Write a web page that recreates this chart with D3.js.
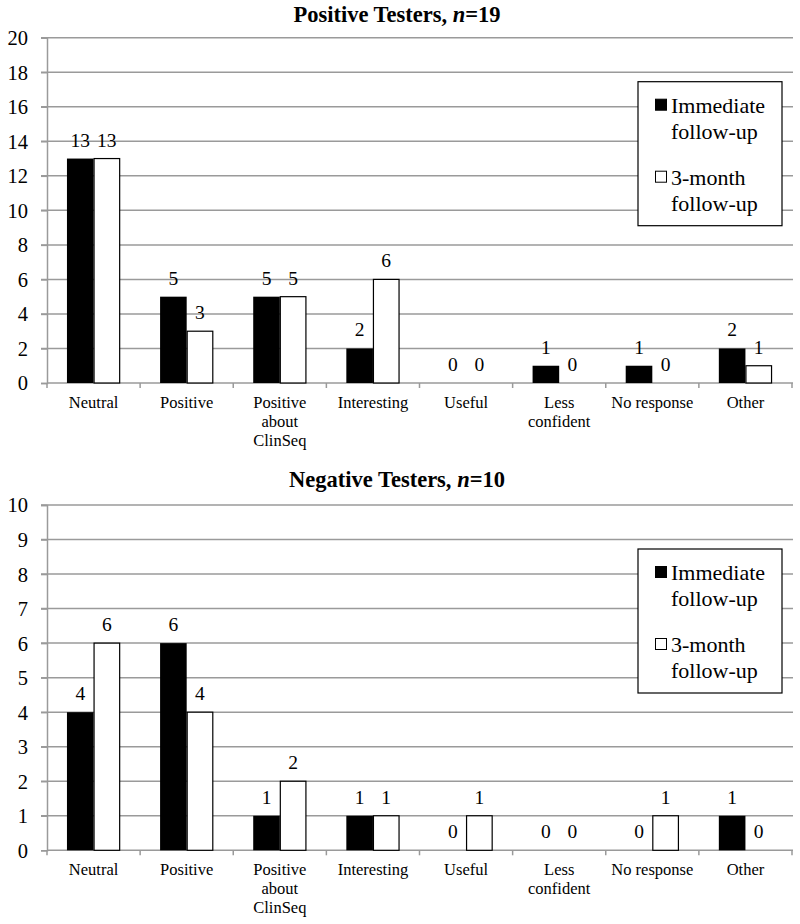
<!DOCTYPE html>
<html>
<head>
<meta charset="utf-8">
<script src="https://cdn.jsdelivr.net/npm/d3@7"></script>
<style>
  html, body { margin: 0; padding: 0; background: #fff; }
  svg { display: block; }
</style>
</head>
<body>
<svg id="chart" width="800" height="924"></svg>
<script>
const categories = [["Neutral"], ["Positive"], ["Positive", "about", "ClinSeq"], ["Interesting"], ["Useful"], ["Less", "confident"], ["No response"], ["Other"]];
const seriesNames = [["Immediate", "follow-up"], ["3-month", "follow-up"]];
const posImmediate = [13, 5, 5, 2, 0, 1, 1, 2];
const pos3month   = [13, 3, 5, 6, 0, 0, 0, 1];
const negImmediate = [4, 6, 1, 1, 0, 0, 0, 1];
const neg3month   = [6, 4, 2, 1, 1, 0, 1, 0];
const posTicks = [0, 2, 4, 6, 8, 10, 12, 14, 16, 18, 20];
const negTicks = [0, 1, 2, 3, 4, 5, 6, 7, 8, 9, 10];

const FONT = "'Liberation Serif', Tinos, 'Times New Roman', Times, 'DejaVu Serif', serif";
const svg = d3.select("#chart").style("font-family", FONT);
const fills = ["#000", "#fff"];

function panel(cfg) {
  const { title, titleItalic, titleEnd, s1, s2, ticks, yMax, top, bottom, titleY } = cfg;
  const left = 47, right = 792;
  const g = svg.append("g").style("font-family", FONT);

  // Title
  const t = g.append("text").attr("x", 397).attr("y", titleY)
    .attr("text-anchor", "middle").attr("font-weight", "bold").attr("font-size", 22.5).style("font-family", FONT);
  t.append("tspan").text(title);
  t.append("tspan").attr("font-style", "italic").text(titleItalic);
  t.append("tspan").text(titleEnd);

  const y = d3.scaleLinear().domain([0, yMax]).range([bottom, top]);
  const x0 = d3.scaleBand().domain(d3.range(categories.length)).range([left, right]).paddingInner(0).paddingOuter(0);
  const bw = x0.bandwidth();
  const x1 = d3.scaleBand().domain([0, 1]).range([0, bw]).paddingInner(0).paddingOuter(0.75);

  // Gridlines
  g.append("g").selectAll("line").data(ticks.filter(d => d > 0)).join("line")
    .attr("x1", left - 6).attr("x2", right + 1)
    .attr("y1", d => y(d)).attr("y2", d => y(d))
    .attr("stroke", "#9a9a9a").attr("stroke-width", 1.5);

  // Y axis
  const yAxis = d3.axisLeft(y).tickValues(ticks).tickSize(6).tickPadding(13).tickFormat(d3.format("d"));
  const ya = g.append("g").attr("transform", `translate(${left},0)`).call(yAxis);
  ya.attr("font-family", null);
  ya.select(".domain").attr("stroke", "#9a9a9a").attr("stroke-width", 1.5);
  ya.selectAll(".tick line").attr("stroke", "#9a9a9a").attr("stroke-width", 1.5);
  ya.selectAll(".tick text").attr("font-size", 20.5).style("font-family", FONT).attr("fill", "#000").attr("dy", "0.34em");

  // X axis line + ticks
  g.append("line").attr("x1", left).attr("x2", right + 1).attr("y1", bottom).attr("y2", bottom)
    .attr("stroke", "#9a9a9a").attr("stroke-width", 1.5);
  const bounds = d3.range(categories.length + 1).map(i => i < categories.length ? x0(i) : right);
  g.append("g").selectAll("line").data(bounds).join("line")
    .attr("x1", d => d).attr("x2", d => d).attr("y1", bottom).attr("y2", bottom + 5)
    .attr("stroke", "#9a9a9a").attr("stroke-width", 1.5);

  // Category labels
  const cl = g.append("g").selectAll("text").data(categories).join("text")
    .attr("x", (d, i) => x0(i) + bw / 2).attr("y", bottom + 25)
    .attr("text-anchor", "middle").attr("font-size", 16.5).style("font-family", FONT);
  cl.selectAll("tspan").data(d => d).join("tspan")
    .attr("x", function() { return d3.select(this.parentNode).attr("x"); })
    .attr("dy", (d, i) => i === 0 ? 0 : 19).text(d => d);

  // Bars
  const series = [s1, s2];
  series.forEach((vals, si) => {
    g.append("g").selectAll("rect").data(vals).join("rect")
      .attr("x", (d, i) => x0(i) + x1(si) + (si === 1 ? 0.5 : 0))
      .attr("y", d => y(d))
      .attr("width", x1.bandwidth() - (si === 1 ? 1 : 0))
      .attr("height", d => y(0) - y(d))
      .attr("fill", fills[si])
      .attr("stroke", d => (si === 1 && d > 0) ? "#000" : "none")
      .attr("stroke-width", 1.2);
    g.append("g").selectAll("text").data(vals).join("text")
      .attr("x", (d, i) => x0(i) + x1(si) + x1.bandwidth() / 2)
      .attr("y", d => y(d) - 12)
      .attr("text-anchor", "middle").attr("font-size", 19.5).style("font-family", FONT)
      .text(d => d);
  });

  // Legend
  const lx = 638, ly = top + 44, lw = 144, lh = 144;
  const lg = g.append("g");
  lg.append("rect").attr("x", lx).attr("y", ly).attr("width", lw).attr("height", lh)
    .attr("fill", "#fff").attr("stroke", "#000").attr("stroke-width", 1.2);
  seriesNames.forEach((nm, si) => {
    const by = ly + 31 + si * 72;
    lg.append("rect").attr("x", 655.5).attr("y", by - 13.5).attr("width", 11).attr("height", 11)
      .attr("fill", fills[si]).attr("stroke", "#000").attr("stroke-width", 1);
    const tx = lg.append("text").attr("x", 671).attr("y", by).attr("font-size", 22).style("font-family", FONT);
    tx.selectAll("tspan").data(nm).join("tspan").attr("x", 671)
      .attr("dy", (d, i) => i === 0 ? 0 : 26).text(d => d);
  });
}

panel({ title: "Positive Testers, ", titleItalic: "n", titleEnd: "=19", s1: posImmediate, s2: pos3month,
  ticks: posTicks, yMax: 20, top: 37.7, bottom: 383, titleY: 22 });
panel({ title: "Negative Testers, ", titleItalic: "n", titleEnd: "=10", s1: negImmediate, s2: neg3month,
  ticks: negTicks, yMax: 10, top: 505, bottom: 850.3, titleY: 487 });
</script>
</body>
</html>
